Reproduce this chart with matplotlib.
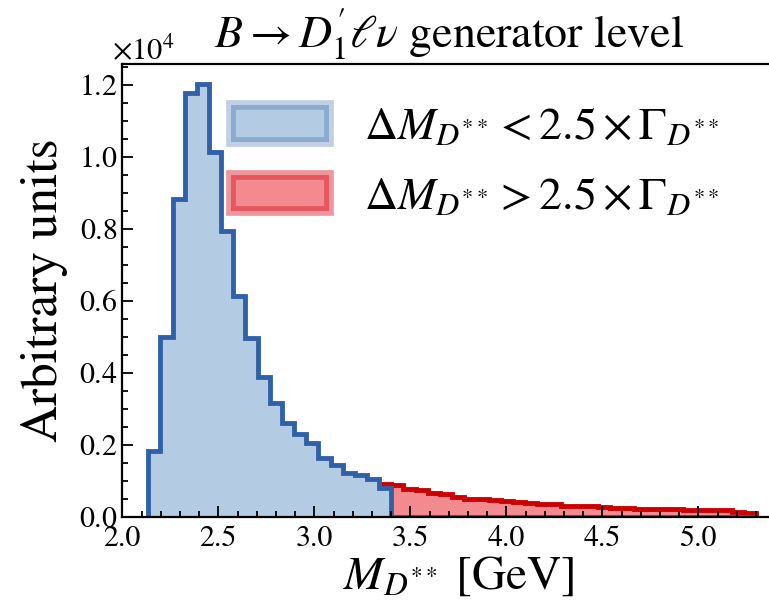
import numpy as np
import matplotlib
matplotlib.use("Agg")
import matplotlib.pyplot as plt
from matplotlib.patches import Patch
from matplotlib.ticker import MultipleLocator, FixedLocator, ScalarFormatter, FormatStrFormatter

plt.rcParams['font.family'] = ['STIXGeneral', 'DejaVu Serif']
plt.rcParams['mathtext.fontset'] = 'stix'

# 50 bins in M_D** [GeV]
edges = np.linspace(2.135, 5.30, 51)

# bin contents (x 10^4)
inside = [0.183, 0.498, 0.883, 1.177, 1.203, 1.014, 0.795, 0.612, 0.496, 0.389,
          0.315, 0.259, 0.230, 0.204, 0.162, 0.144, 0.122, 0.115, 0.104, 0.080] + [0.0] * 30
outside = [0.0] * 19 + [0.092,
           0.088, 0.077, 0.075, 0.066, 0.063, 0.055, 0.050, 0.048, 0.046, 0.043,
           0.041, 0.037, 0.036, 0.034, 0.031, 0.030, 0.029, 0.028, 0.025, 0.024,
           0.022, 0.022, 0.021, 0.021, 0.019, 0.019, 0.018, 0.018, 0.014, 0.011]
xticks = [2.0, 2.5, 3.0, 3.5, 4.0, 4.5, 5.0]

inside = np.array(inside) * 1e4
outside = np.array(outside) * 1e4

blue_fill = '#b3cbe3'
blue_line = '#3061a8'
red_fill = '#f38a90'
red_line = '#cc0000'

fig = plt.figure(figsize=(7.69, 6.03), dpi=100)
# axes run past the right edge of the figure (right spine is cut off)
ax = fig.add_axes([122.3 / 769, 1 - 516.7 / 603, 3.5 * 192 / 769, 452.7 / 603])

# red (outside window) first, blue on top
ax.stairs(outside, edges, fill=True, color=red_fill, baseline=0)
ax.stairs(outside, edges, color=red_line, lw=3.5, baseline=0)
ax.stairs(inside, edges, fill=True, color=blue_fill, baseline=0)
ax.stairs(inside, edges, color=blue_line, lw=3.5, baseline=0)

ax.set_xlim(2.0, 5.5)
ax.set_ylim(0, 1.2575e4)

ax.xaxis.set_major_locator(FixedLocator(xticks))
ax.xaxis.set_minor_locator(MultipleLocator(0.1))
ax.yaxis.set_major_locator(MultipleLocator(2000))
ax.yaxis.set_minor_locator(MultipleLocator(500))
fmt = ScalarFormatter(useMathText=True)
fmt.set_powerlimits((0, 0))
ax.yaxis.set_major_formatter(fmt)
ax.xaxis.set_major_formatter(FormatStrFormatter('%.1f'))
ax.yaxis.get_offset_text().set_fontsize(22)
ax.yaxis.get_offset_text().set_x(-0.015)

ax.tick_params(which='both', direction='in', labelsize=21.5, width=1.3)
ax.tick_params(which='major', length=8)
ax.tick_params(which='minor', length=4)
ax.tick_params(axis='x', pad=6)
for s in ax.spines.values():
    s.set_linewidth(1.6)

ax.set_xlabel(r'$M_{D^{**}}$ [GeV]', fontsize=34, labelpad=2)
ax.set_ylabel('Arbitrary units', fontsize=37, labelpad=8)
ax.set_title(r'$B \rightarrow D_1^{\prime}\ell\nu$ generator level', fontsize=33, pad=12,
             x=(448.7 - 122.3) / (3.5 * 192))

handles = [
    Patch(facecolor=blue_fill, edgecolor=(0.19, 0.38, 0.66, 0.3), lw=7),
    Patch(facecolor=red_fill, edgecolor=(0.85, 0.1, 0.15, 0.45), lw=7),
]
labels = [r'$\Delta M_{D^{**}} < 2.5 \times \Gamma_{D^{**}}$',
          r'$\Delta M_{D^{**}} > 2.5 \times \Gamma_{D^{**}}$']
ax.legend(handles, labels, loc='upper left', bbox_to_anchor=(0.10, 1.0),
          frameon=False, fontsize=33, handlelength=2.15, handleheight=0.85,
          labelspacing=0.55, handletextpad=0.75)

fig.savefig('out.png', dpi=100)
